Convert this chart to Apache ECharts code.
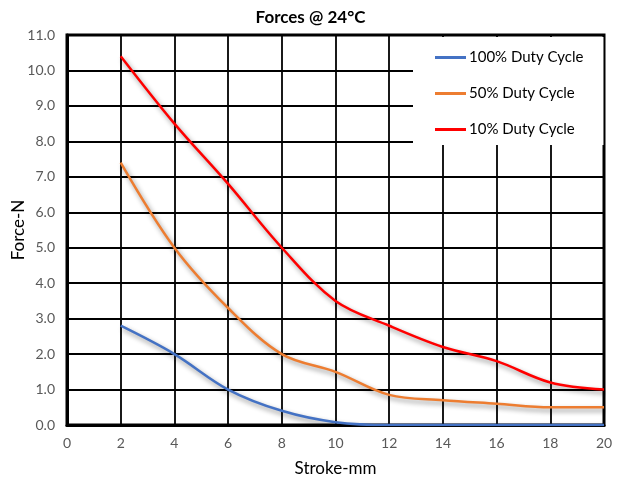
<!DOCTYPE html>
<html><head><meta charset="utf-8">
<script src="https://cdn.jsdelivr.net/npm/echarts@6/dist/echarts.min.js"></script>
<style>html,body{margin:0;padding:0;background:#fff}#c{width:621px;height:477px}</style>
</head><body><div id="c"></div>
<script>
const strokeMM = [2, 4, 6, 8, 10, 12, 14, 16, 18, 20];
const duty100 = [2.8, 2.0, 1.0, 0.4, 0.08, 0.0, 0.0, 0.0, 0.0, 0.0];
const duty50 = [7.4, 5.0, 3.3, 2.0, 1.5, 0.85, 0.7, 0.6, 0.5, 0.5];
const duty10 = [10.4, 8.5, 6.8, 5.0, 3.5, 2.8, 2.2, 1.8, 1.2, 1.0];
const seriesNames = ['100% Duty Cycle', '50% Duty Cycle', '10% Duty Cycle'];
const colors = ['#4472C4', '#ED7D31', '#FF0000'];

const font = 'Lato, "Open Sans", sans-serif';
const pair = arr => strokeMM.map((x, i) => [x, arr[i]]);
const mk = (name, arr, color) => ({
  name, type: 'line', data: pair(arr), smooth: 0.35, symbol: 'none',
  lineStyle: { color, width: 2.5, shadowColor: 'rgba(0,0,0,0.45)', shadowBlur: 5, shadowOffsetX: 2, shadowOffsetY: 3 },
  itemStyle: { color }
});

const chart = echarts.init(document.getElementById('c'));
chart.setOption({
  animation: false,
  backgroundColor: '#fff',
  title: { text: 'Forces @ 24°C', left: 'center', top: 4, textStyle: { fontFamily: font, fontSize: 17, fontWeight: 'bold', color: '#000' } },
  legend: {
    orient: 'vertical', left: 413, top: 37, width: 188,
    backgroundColor: '#fff', padding: [13, 20, 8, 22], itemGap: 21,
    icon: 'rect', itemWidth: 31, itemHeight: 3,
    textStyle: { fontFamily: font, fontSize: 15, color: '#000', padding: [0, 0, 0, -2] },
    data: seriesNames
  },
  grid: { left: 67, right: 17, top: 35, bottom: 52, outerBoundsMode: 'none', containLabel: false },
  xAxis: {
    type: 'value', min: 0, max: 20, interval: 2,
    name: 'Stroke-mm', nameLocation: 'middle', nameGap: 35, nameMoveOverlap: false,
    nameTextStyle: { fontFamily: font, fontSize: 17, color: '#000' },
    axisLine: { lineStyle: { color: '#000', width: 3 } },
    axisTick: { show: false },
    axisLabel: { fontFamily: font, fontSize: 14, color: '#595959', margin: 11 },
    splitLine: { lineStyle: { color: '#000', width: 1.8 } }
  },
  yAxis: {
    type: 'value', min: 0, max: 11, interval: 1,
    name: 'Force-N', nameLocation: 'middle', nameGap: 40, nameMoveOverlap: false,
    nameTextStyle: { fontFamily: font, fontSize: 17, color: '#000' },
    axisLine: { show: true, lineStyle: { color: '#000', width: 3 } },
    axisTick: { show: false },
    axisLabel: { fontFamily: font, fontSize: 14, color: '#595959', margin: 12, formatter: v => v.toFixed(1) },
    splitLine: { lineStyle: { color: '#000', width: 1.8 } }
  },
  graphic: [],
  series: [mk(seriesNames[0], duty100, colors[0]), mk(seriesNames[1], duty50, colors[1]), mk(seriesNames[2], duty10, colors[2])]
});
const g = chart.getModel().getComponent('grid').coordinateSystem.getRect();
chart.setOption({ graphic: [{ type: 'rect', z: 0, silent: true, shape: { x: g.x, y: g.y, width: g.width, height: g.height }, style: { fill: 'none', stroke: '#000', lineWidth: 3 } }] });
</script></body></html>
